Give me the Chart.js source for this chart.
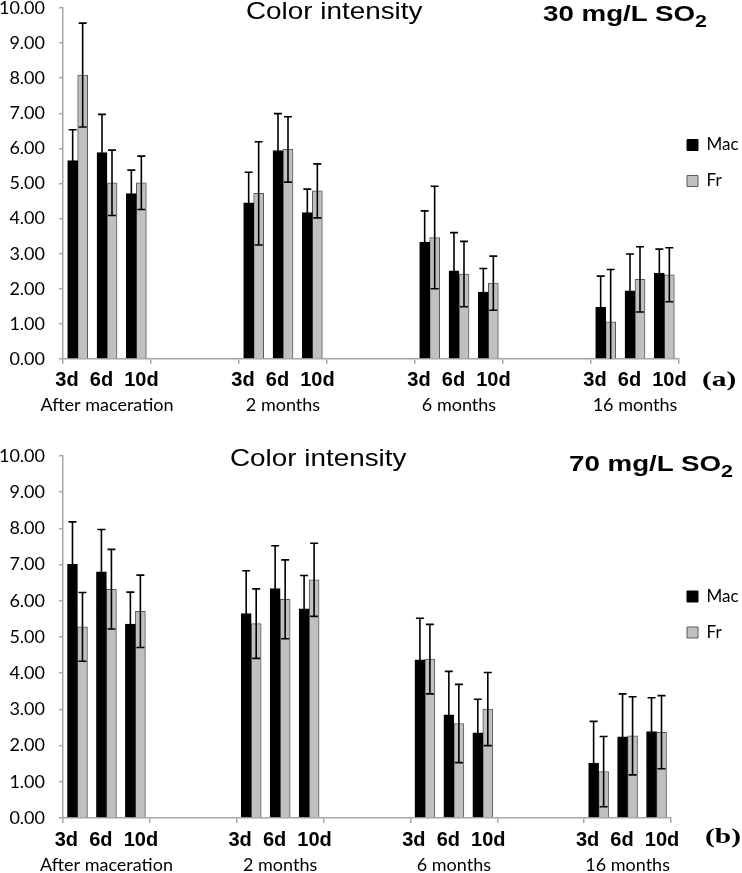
<!DOCTYPE html>
<html>
<head>
<meta charset="utf-8">
<script src="https://cdn.jsdelivr.net/npm/chart.js@4.4.1/dist/chart.umd.min.js"></script>
<style>
  body { margin: 0; background: #fff; }
  #wrap { position: relative; width: 742px; height: 873px; overflow: hidden; }
  canvas { position: absolute; left: 0; }
  .ttl { position: absolute; font-family: "Liberation Sans", Arial, sans-serif; font-size: 24px; line-height: 24px; white-space: nowrap; transform-origin: 0 0; color: #000; }
  .so2 { font-weight: bold; font-size: 22px; line-height: 22px; }
  .tag { position: absolute; font-family: "Liberation Serif", "Times New Roman", serif; font-weight: bold; font-size: 21px; line-height: 20px; transform-origin: 0 0; }
</style>
</head>
<body>
<div id="wrap">
  <canvas id="chartA" width="742" height="430" style="top:0"></canvas>
  <canvas id="chartB" width="742" height="433" style="top:440px"></canvas>

  <div class="ttl" style="left:246px;top:-1px;transform:scaleX(1.16)">Color intensity</div>
  <div class="ttl so2" style="left:543px;top:3px;transform:scaleX(1.26)">30 mg/L SO<span style="font-size:17px;position:relative;top:6px">2</span></div>
  <div class="tag" style="left:702px;top:369px;transform:scaleX(1.4)">(a)</div>

  <div class="ttl" style="left:230px;top:446px;transform:scaleX(1.16)">Color intensity</div>
  <div class="ttl so2" style="left:569px;top:453px;transform:scaleX(1.26)">70 mg/L SO<span style="font-size:17px;position:relative;top:6px">2</span></div>
  <div class="tag" style="left:705px;top:826px;transform:scaleX(1.4)">(b)</div>
</div>

<script>
// --- data ---
const groups = ['After maceration', '2 months', '6 months', '16 months'];
const days = ['3d', '6d', '10d'];
const yTicks = [0, 1, 2, 3, 4, 5, 6, 7, 8, 9, 10];

// 30 mg/L SO2
const macA   = [5.65, 5.88, 4.71, 4.45, 5.94, 4.17, 3.33, 2.51, 1.91, 1.47, 1.94, 2.45];
const macSdA = [0.88, 1.09, 0.67, 0.87, 1.05, 0.67, 0.89, 1.09, 0.67, 0.89, 1.05, 0.68];
const frA    = [8.09, 5.02, 5.02, 4.72, 5.97, 4.79, 3.46, 2.42, 2.16, 1.06, 2.27, 2.40];
const frSdA  = [1.48, 0.93, 0.76, 1.47, 0.93, 0.77, 1.46, 0.93, 0.77, 1.49, 0.93, 0.77];

// 70 mg/L SO2
const macB   = [7.01, 6.80, 5.36, 5.65, 6.34, 5.78, 4.37, 2.85, 2.35, 1.52, 2.24, 2.39];
const macSdB = [1.17, 1.17, 0.88, 1.18, 1.18, 0.92, 1.15, 1.20, 0.93, 1.15, 1.19, 0.93];
const frB    = [5.28, 6.32, 5.71, 5.37, 6.04, 6.58, 4.39, 2.61, 3.01, 1.28, 2.27, 2.37];
const frSdB  = [0.95, 1.10, 1.00, 0.96, 1.09, 1.01, 0.96, 1.08, 1.01, 0.97, 1.08, 1.01];

// every group sits in one tick interval, with an empty interval between groups
function spread(vals, blank) {
    const out = [];
    groups.forEach((g, i) => {
        out.push(...vals.slice(i * 3, i * 3 + 3));
        if (i < groups.length - 1) out.push(blank, blank, blank);
    });
    return out;
}
function interleave(arr) {
    const out = [];
    arr.forEach((a, i) => {
        out.push(a);
        if (i < arr.length - 1) out.push('');
    });
    return out;
}

const slotLabels = spread(groups.flatMap(() => days), '');
const dayRow = interleave(groups.map(() => days.join('  ')));
const groupRow = interleave(groups);

Chart.defaults.color = '#000';
Chart.defaults.animation = false;

// --- error bars (symmetric, drawn on top of the bars) ---
const errorBars = {
    id: 'errorBars',
    afterDatasetsDraw(chart) {
        const ctx = chart.ctx;
        const y = chart.scales.y;
        const area = chart.chartArea;
        ctx.save();
        ctx.beginPath();
        ctx.rect(area.left, area.top - 2, area.right - area.left, area.bottom - area.top + 2);
        ctx.clip();
        ctx.strokeStyle = '#000';
        ctx.lineWidth = 1.6;
        chart.data.datasets.forEach((ds, i) => {
            chart.getDatasetMeta(i).data.forEach((bar, j) => {
                const v = ds.data[j];
                if (v == null) return;
                const hi = y.getPixelForValue(v + ds.sd[j]);
                const lo = y.getPixelForValue(v - ds.sd[j]);
                ctx.beginPath();
                ctx.moveTo(bar.x, lo); ctx.lineTo(bar.x, hi);
                ctx.moveTo(bar.x - 4, hi); ctx.lineTo(bar.x + 4, hi);
                ctx.moveTo(bar.x - 4, lo); ctx.lineTo(bar.x + 4, lo);
                ctx.stroke();
            });
        });
        ctx.restore();
    }
};

// move the legend a little after layout (excel put it left/up of where chart.js does)
const nudgeLegend = {
    id: 'nudgeLegend',
    afterLayout(chart, args, opts) {
        const lg = chart.legend;
        lg.left += opts.dx; lg.right += opts.dx;
        lg.top += opts.dy; lg.bottom += opts.dy;
    }
};

const gray = '#a6a6a6';
const calibriLike = 'Lato';

function makeChart(id, mac, macSd, fr, frSd, o) {
    return new Chart(document.getElementById(id), {
        type: 'bar',
        data: {
            labels: slotLabels,
            datasets: [
                { label: 'Mac', data: spread(mac, null), sd: spread(macSd, null),
                  backgroundColor: '#000', borderColor: '#000', borderWidth: 1 },
                { label: 'Fr', data: spread(fr, null), sd: spread(frSd, null),
                  backgroundColor: '#c0c0c0', borderColor: '#5a5a5a', borderWidth: 1 }
            ]
        },
        options: {
            responsive: false,
            barThickness: 10,
            layout: { padding: { top: o.padTop, left: 0, right: o.padRight, bottom: 0 } },
            scales: {
                x: {
                    weight: 0,
                    offset: true,
                    ticks: { display: false },
                    grid: {
                        offset: true, drawOnChartArea: false, tickLength: 5, lineWidth: 1.5,
                        color: c => (c.index === undefined || c.index % 3 === 0) ? gray : 'rgba(0,0,0,0)'
                    },
                    border: { color: gray, width: 1.5 },
                    afterFit: s => { s.height = 5; }
                },
                x2: {
                    type: 'category', position: 'bottom', weight: 1, offset: true,
                    labels: dayRow,
                    grid: { display: false, drawTicks: false },
                    border: { display: false },
                    ticks: { autoSkip: false, maxRotation: 0, padding: o.dayPad,
                             font: { family: 'Liberation Sans', weight: 'bold', size: 20 } },
                    afterFit: s => { s.height = 28; }
                },
                x3: {
                    type: 'category', position: 'bottom', weight: 2, offset: true,
                    labels: groupRow,
                    grid: { display: false, drawTicks: false },
                    border: { display: false },
                    ticks: { autoSkip: false, maxRotation: 0, padding: o.groupPad,
                             font: { family: calibriLike, size: 18 } },
                    afterFit: s => { s.height = o.groupH; }
                },
                y: {
                    min: yTicks[0], max: yTicks[yTicks.length - 1],
                    afterBuildTicks: s => { s.ticks = yTicks.map(v => ({ value: v })); },
                    ticks: { padding: 14, font: { family: calibriLike, size: 18 },
                             callback: v => v.toFixed(2) },
                    grid: { drawOnChartArea: false, tickLength: 4, color: gray, lineWidth: 1.5 },
                    border: { color: gray, width: 1.5 },
                    afterFit: s => { s.width = 63; s.paddingTop = 8; s.paddingBottom = 8; }
                }
            },
            plugins: {
                legend: {
                    position: 'right',
                    maxWidth: 71,
                    labels: { boxWidth: 11, boxHeight: 11, padding: 19,
                              font: { family: calibriLike, size: 17 } }
                },
                nudgeLegend: { dx: o.dx, dy: o.dy },
                tooltip: { enabled: false }
            }
        },
        plugins: [errorBars, nudgeLegend]
    });
}

makeChart('chartA', macA, macSdA, frA, frSdA,
    { padTop: 0, padRight: -8, dayPad: 4, groupPad: 2, groupH: 38, dx: -11, dy: -52 });
makeChart('chartB', macB, macSdB, frB, frSdB,
    { padTop: 16, padRight: 0, dayPad: 5, groupPad: 3, groupH: 22, dx: -3, dy: -50 });
</script>
</body>
</html>
